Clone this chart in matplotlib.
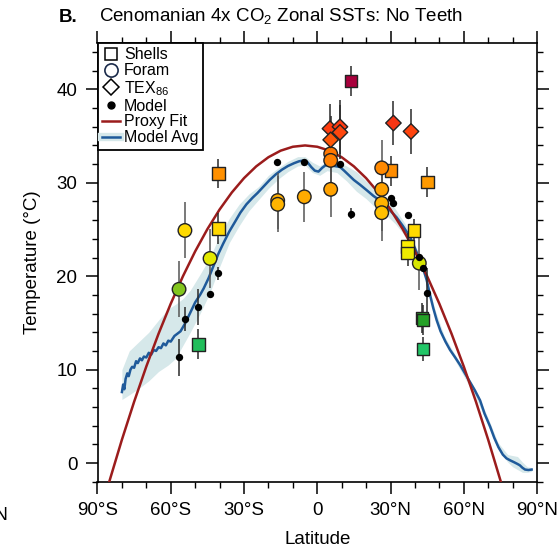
import numpy as np
import matplotlib
matplotlib.use("Agg")
import matplotlib.pyplot as plt
from matplotlib.colors import LinearSegmentedColormap, Normalize
from matplotlib.lines import Line2D

plt.rcParams['font.family'] = ['Liberation Sans', 'DejaVu Sans']
plt.rcParams['mathtext.fontset'] = 'custom'
plt.rcParams['mathtext.rm'] = 'Liberation Sans'
plt.rcParams['mathtext.it'] = 'Liberation Sans:italic'

# ---------------- data ----------------
# Shells (squares)
shell_lat = [-40.5, -40.5, -48.7, 13.8, 30.2, 45.1, 39.6, 37.0, 37.0, 43.0, 43.2, 43.2]
shell_t   = [31.0, 25.1, 12.7, 40.9, 31.3, 30.1, 24.9, 23.2, 22.5, 15.5, 15.3, 12.2]
shell_err = [1.6, 1.7, 1.6, 1.6, 1.6, 1.6, 1.2, 1.4, 1.4, 1.6, 1.6, 1.3]

# Foram (circles)
foram_lat = [-54.2, -56.6, -43.9, -16.2, -16.2, -5.3, 5.5, 5.5, 5.5, 26.4, 26.4, 26.4, 26.4, 41.8]
foram_t   = [24.9, 18.6, 21.9, 28.1, 27.7, 28.5, 33.1, 32.4, 29.3, 31.6, 29.3, 27.8, 26.8, 21.4]
foram_err = [3.0, 3.0, 3.2, 3.0, 3.0, 2.7, 3.0, 3.0, 3.0, 3.0, 3.0, 3.0, 3.0, 2.9]

# TEX86 (diamonds)
tex_lat = [5.2, 9.3, 9.3, 5.5, 31.2, 38.4]
tex_t   = [35.8, 36.0, 35.4, 34.6, 36.4, 35.5]
tex_err = [2.6, 2.9, 2.9, 2.6, 2.4, 2.4]

# Model (black dots)
model_lat = [-56.6, -54.2, -48.7, -43.9, -40.5, -16.5, -5.3, 9.3, 13.8, 30.2, 31.2, 37.0, 41.8, 43.4, 45.0]
model_t   = [11.3, 15.4, 16.7, 18.1, 20.3, 32.2, 32.2, 32.0, 26.7, 28.4, 27.8, 26.5, 22.1, 20.9, 18.2]
model_err = [2.0, 1.3, 1.9, 0.0, 0.7, 0.0, 0.0, 0.0, 0.6, 0.0, 0.0, 0.0, 0.0, 0.0, 2.7]

# Proxy fit curve
fit_lat = [-90, -85, -80, -75, -70, -65, -60, -55, -50, -45, -40, -35, -30, -25, -20, -15,
           -10, -5, 0, 5, 10, 15, 20, 25, 30, 35, 40, 45, 50, 55, 60, 65, 70, 75, 80]
fit_t = [-6.46, -1.84, 2.5, 6.56, 10.34, 13.84, 17.06, 20.0, 22.66, 25.04, 27.14, 28.96,
         30.5, 31.76, 32.74, 33.44, 33.86, 34.0, 33.86, 33.44, 32.74, 31.76, 30.5, 28.96,
         27.14, 25.04, 22.66, 20.0, 17.06, 13.84, 10.34, 6.56, 2.5, -1.84, -6.46]

# Model zonal average
avg_lat = [-80.0, -79.5, -79.0, -78.5, -77.8, -77.2, -76.5, -75.8, -75.0, -74.2, -73.5, -72.6,
           -71.8, -71.0, -70.0, -69.0, -68.0, -67.0, -66.0, -65.0, -64.0, -63.0, -62.0, -61.0,
           -60.0, -58.5, -57.0, -56.0, -54.0, -52.0, -50.0, -48.0, -46.5, -44.5, -42.5, -40.5,
           -38.5, -36.0, -33.5, -31.5, -29.0, -26.5, -24.5, -22.0, -19.5, -17.0, -14.5, -12.0,
           -9.5, -7.5, -5.5, -4.0, -2.5, -1.0, 0.5, 2.0, 3.5, 5.0, 7.0, 9.3, 11.0, 13.0, 15.0,
           17.5, 20.3, 23.0, 25.7, 28.0, 30.0, 32.5, 35.0, 38.0, 40.0, 42.1, 43.5, 44.8, 46.0,
           47.5, 48.9, 50.5, 52.5, 54.4, 56.5, 58.5, 60.5, 62.5, 64.5, 66.7, 68.5, 70.8, 72.5,
           74.2, 76.0, 77.5, 78.9, 80.5, 82.0, 83.0, 84.0, 85.1, 86.5, 87.8]
avg_t = [7.6, 8.4, 7.9, 9.0, 9.6, 9.3, 10.0, 10.3, 10.2, 10.9, 10.7, 11.2,
         11.0, 11.4, 11.3, 11.8, 11.6, 12.1, 12.0, 12.4, 12.3, 12.8, 12.6, 13.1,
         13.0, 13.6, 13.9, 14.1, 15.0, 16.1, 17.2, 18.0, 18.7, 19.8, 21.1, 22.4,
         23.5, 24.8, 25.9, 26.8, 27.7, 28.4, 28.9, 29.6, 30.3, 30.9, 31.4, 31.8,
         32.1, 32.3, 32.4, 32.2, 31.7, 31.3, 31.2, 31.6, 31.9, 31.9, 31.8, 31.7, 31.3, 30.8, 30.3,
         29.8, 29.2, 28.6, 28.1, 27.5, 27.0, 26.3, 25.4, 24.2, 23.0, 21.7, 20.7, 19.6, 18.2,
         16.6, 15.3, 14.1, 13.0, 12.1, 11.3, 10.5, 9.6, 8.7, 7.8, 6.7, 5.3, 3.9, 2.7,
         1.7, 0.9, 0.5, 0.3, 0.1, -0.1, -0.25, -0.5, -0.7, -0.75, -0.7]

# Model spread band
band_lat = [-80, -77, -73, -69, -65, -61, -58, -55, -52, -48, -44, -40, -36, -32, -28, -24,
            -20, -16, -12, -8, -5, -2, 1, 4, 8, 12, 16, 20, 24, 28, 32, 36, 40, 44, 48, 52,
            56, 60, 65, 70, 74, 78, 80, 82, 84, 86, 87.8]
band_lo = [6.8, 7.3, 8.0, 8.8, 9.8, 10.5, 11.2, 12.6, 14.0, 16.0, 18.2, 21.0, 23.6, 25.4, 27.0,
           28.2, 29.4, 30.4, 31.2, 31.8, 31.9, 31.1, 30.8, 31.3, 31.1, 30.2, 29.1, 28.3, 27.3,
           26.6, 25.6, 24.3, 22.6, 19.9, 15.8, 13.0, 11.2, 9.3, 7.0, 4.0, 1.5, 0.1, -0.4, -0.7,
           -1.0, -1.0, -0.9]
band_hi = [10.0, 12.0, 13.0, 14.0, 15.3, 16.5, 17.0, 17.6, 18.5, 20.2, 22.0, 24.3, 26.2, 27.7,
           28.8, 29.6, 30.8, 31.6, 32.3, 32.8, 32.8, 32.2, 31.8, 32.4, 32.3, 31.8, 31.2, 30.2,
           29.4, 28.5, 27.2, 25.6, 23.4, 20.7, 16.6, 13.6, 11.8, 10.0, 7.8, 4.8, 2.2, 0.9, 0.8,
           0.7, 0.1, -0.4, -0.5]

xtick_vals = [-90, -60, -30, 0, 30, 60, 90]
xtick_labels = ['90°S', '60°S', '30°S', '0', '30°N', '60°N', '90°N']
ytick_vals = [0, 10, 20, 30, 40]

# ---------------- styling ----------------
cmap = LinearSegmentedColormap.from_list('sst', [
    (0.0, '#22c86a'), (3 / 29, '#1d9e28'), (6.5 / 29, '#80c41e'), (9.5 / 29, '#dbe800'),
    (11.5 / 29, '#ffec00'), (13 / 29, '#ffd800'), (16 / 29, '#ffb000'), (19 / 29, '#ff9000'),
    (21 / 29, '#ff7a00'), (24 / 29, '#ff3a10'), (1.0, '#a8003c')])
norm = Normalize(vmin=12, vmax=41)

fig = plt.figure(figsize=(5.6, 5.52), dpi=100)
ax = fig.add_axes([97.5 / 560, 1 - 481.7 / 552, (537 - 97.5) / 560, (481.7 - 42.7) / 552])

band_col = '#d6e8ea'
blue = '#1f5a9a'
red = '#9b1c1c'

ax.fill_between(band_lat, band_lo, band_hi, color=band_col, lw=0, zorder=1)
ax.plot(avg_lat, avg_t, color=blue, lw=1.8, zorder=2)
ax.plot(fit_lat, fit_t, color=red, lw=1.8, zorder=3)

ecol = '#2a2a2a'
ax.errorbar(model_lat, model_t, yerr=model_err, fmt='none', ecolor=ecol, elinewidth=1.1, zorder=4)
ax.errorbar(shell_lat, shell_t, yerr=shell_err, fmt='none', ecolor=ecol, elinewidth=1.1, zorder=4)
ax.errorbar(foram_lat, foram_t, yerr=foram_err, fmt='none', ecolor='#555555', elinewidth=1.1, zorder=4)
ax.errorbar(tex_lat, tex_t, yerr=tex_err, fmt='none', ecolor=ecol, elinewidth=1.1, zorder=4)

ax.scatter(shell_lat, shell_t, c=shell_t, cmap=cmap, norm=norm, marker='s', s=80,
           edgecolors='#222222', linewidths=1.0, zorder=5)
ax.scatter(foram_lat, foram_t, c=foram_t, cmap=cmap, norm=norm, marker='o', s=95,
           edgecolors='#222222', linewidths=1.0, zorder=5)
ax.scatter(tex_lat, tex_t, c=tex_t, cmap=cmap, norm=norm, marker='D', s=62,
           edgecolors='#222222', linewidths=1.0, zorder=6)
ax.scatter(model_lat, model_t, color='black', marker='o', s=28, zorder=7, linewidths=0)

ax.set_xlim(-90, 90)
ax.set_ylim(-2, 45)
ax.set_xticks(xtick_vals)
ax.set_xticklabels(xtick_labels)
ax.set_xticks(np.arange(-90, 91, 10), minor=True)
ax.set_yticks(ytick_vals)
ax.set_yticks(np.arange(-2, 45, 2), minor=True)
ax.tick_params(which='major', length=8.5, width=1.1, labelsize=13.5, pad=6,
               top=True, right=True, direction='out')
ax.tick_params(which='minor', length=4.3, width=1.0, top=True, right=True, direction='out')
for sp in ax.spines.values():
    sp.set_linewidth(1.2)

ax.set_xlabel('Latitude', fontsize=13.5, labelpad=9)
ax.set_ylabel('Temperature (°C)', fontsize=13.5, labelpad=11)

# legend
handles = [
    Line2D([], [], marker='s', ls='none', mfc='none', mec='black', ms=9, mew=1.1),
    Line2D([], [], marker='o', ls='none', mfc='none', mec='#1a2a4a', ms=9.5, mew=1.2),
    Line2D([], [], marker='D', ls='none', mfc='none', mec='black', ms=8, mew=1.1),
    Line2D([], [], marker='o', ls='none', color='black', ms=5),
    Line2D([], [], color=red, lw=1.8),
    (Line2D([], [], color=band_col, lw=6), Line2D([], [], color=blue, lw=1.8)),
]
labels = ['Shells', 'Foram', 'TEX$_{86}$', 'Model', 'Proxy Fit', 'Model Avg']
leg = ax.legend(handles, labels, loc='upper left', bbox_to_anchor=(0, 1), borderaxespad=0,
                fontsize=11.5, handlelength=1.1, handletextpad=0.25, labelspacing=0.05,
                borderpad=0.3, fancybox=False, framealpha=1, edgecolor='black')
leg.get_frame().set_linewidth(1.3)
leg.set_zorder(10)

# title
ty = 1 - 21.5 / 552
fig.text(58.5 / 560, ty, 'B.', fontsize=13.5, fontweight='bold', va='baseline', ha='left')
fig.text(98.7 / 560, ty, 'Cenomanian 4x CO$_2$ Zonal SSTs: No Teeth', fontsize=13.5,
         va='baseline', ha='left')
# tick label of the neighbouring panel, cut by the left edge as in the reference
fig.text(8 / 560, 1 - 520 / 552, '90°N', fontsize=13.5, va='baseline', ha='right')

fig.savefig('out.png', dpi=100)
